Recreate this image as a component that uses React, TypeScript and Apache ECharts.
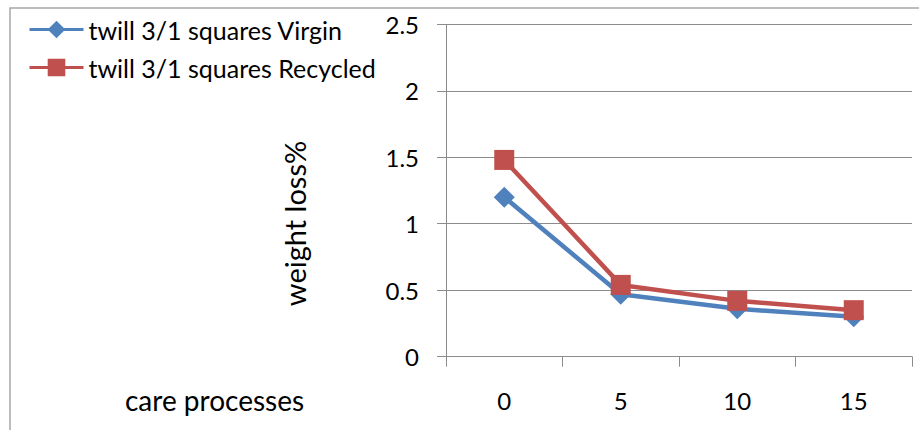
import React, { useEffect, useRef } from "react";
import * as echarts from "echarts";

const categories = ["0", "5", "10", "15"];
const virgin = [1.2, 0.47, 0.36, 0.3];
const recycled = [1.48, 0.54, 0.42, 0.35];
const seriesNames = ["twill 3/1 squares Virgin", "twill 3/1 squares Recycled"];
const yAxisName = "weight loss%";
const xAxisName = "care processes";
const yMin = 0;
const yMax = 2.5;
const yStep = 0.5;

export default function App() {
  const ref = useRef<HTMLDivElement>(null);
  useEffect(() => {
    const chart = echarts.init(ref.current!, null, { renderer: "svg" });
    const font = "Lato";
    const tickFs = 24;
    const legendFs = 25;
    const titleFs = 29;
    const axisGrey = "#8c8c8c";
    chart.setOption({
      animation: false,
      textStyle: { fontFamily: font },
      grid: { left: 446, right: 7, top: 24.3, bottom: 430 - 356.7 },
      legend: {
        orient: "vertical",
        left: 23,
        top: 12,
        itemWidth: 54,
        itemHeight: 22,
        itemGap: 13,
        lineStyle: { width: 3 },
        textStyle: { fontFamily: font, fontSize: legendFs, color: "#000" },
        data: seriesNames,
      },
      xAxis: {
        type: "category",
        data: categories,
        boundaryGap: true,
        axisLine: { show: true, lineStyle: { color: axisGrey, width: 1 } },
        axisTick: { show: true, length: 10, lineStyle: { color: axisGrey } },
        axisLabel: { fontFamily: font, fontSize: tickFs, color: "#000", margin: 32 },
        splitLine: { show: false },
      },
      yAxis: {
        type: "value",
        min: yMin,
        max: yMax,
        interval: yStep,
        name: yAxisName,
        nameLocation: "middle",
        nameGap: 137,
        nameTextStyle: {
          fontFamily: font,
          fontSize: titleFs,
          color: "#000",
          padding: [0, 66, 0, 0],
        },
        axisLine: { show: true, lineStyle: { color: axisGrey, width: 1 } },
        axisTick: { show: true, length: 9, lineStyle: { color: axisGrey } },
        axisLabel: { fontFamily: font, fontSize: tickFs, color: "#000", margin: 27 },
        splitLine: { show: true, lineStyle: { color: axisGrey, width: 1 } },
      },
      graphic: [
        {
          type: "rect",
          shape: { x: 10, y: 8, width: 1200, height: 800 },
          style: { fill: "none", stroke: "#a6a6a6", lineWidth: 1.5 },
          silent: true,
        },
        {
          type: "text",
          x: 125,
          y: 400,
          style: {
            text: xAxisName,
            fontFamily: font,
            fontSize: 28,
            fill: "#000",
            verticalAlign: "middle",
            align: "left",
          },
        },
      ],
      series: [
        {
          name: seriesNames[0],
          type: "line",
          data: virgin,
          symbol: "diamond",
          symbolSize: 21,
          lineStyle: { color: "#4F81BD", width: 4.5 },
          itemStyle: { color: "#4F81BD" },
        },
        {
          name: seriesNames[1],
          type: "line",
          data: recycled,
          symbol: "rect",
          symbolSize: 20,
          lineStyle: { color: "#C0504D", width: 4.5 },
          itemStyle: { color: "#C0504D" },
        },
      ],
    });
    return () => chart.dispose();
  }, []);
  return (
    <div
      ref={ref}
      style={{ position: "absolute", left: 0, top: 0, width: 919, height: 430 }}
    />
  );
}
